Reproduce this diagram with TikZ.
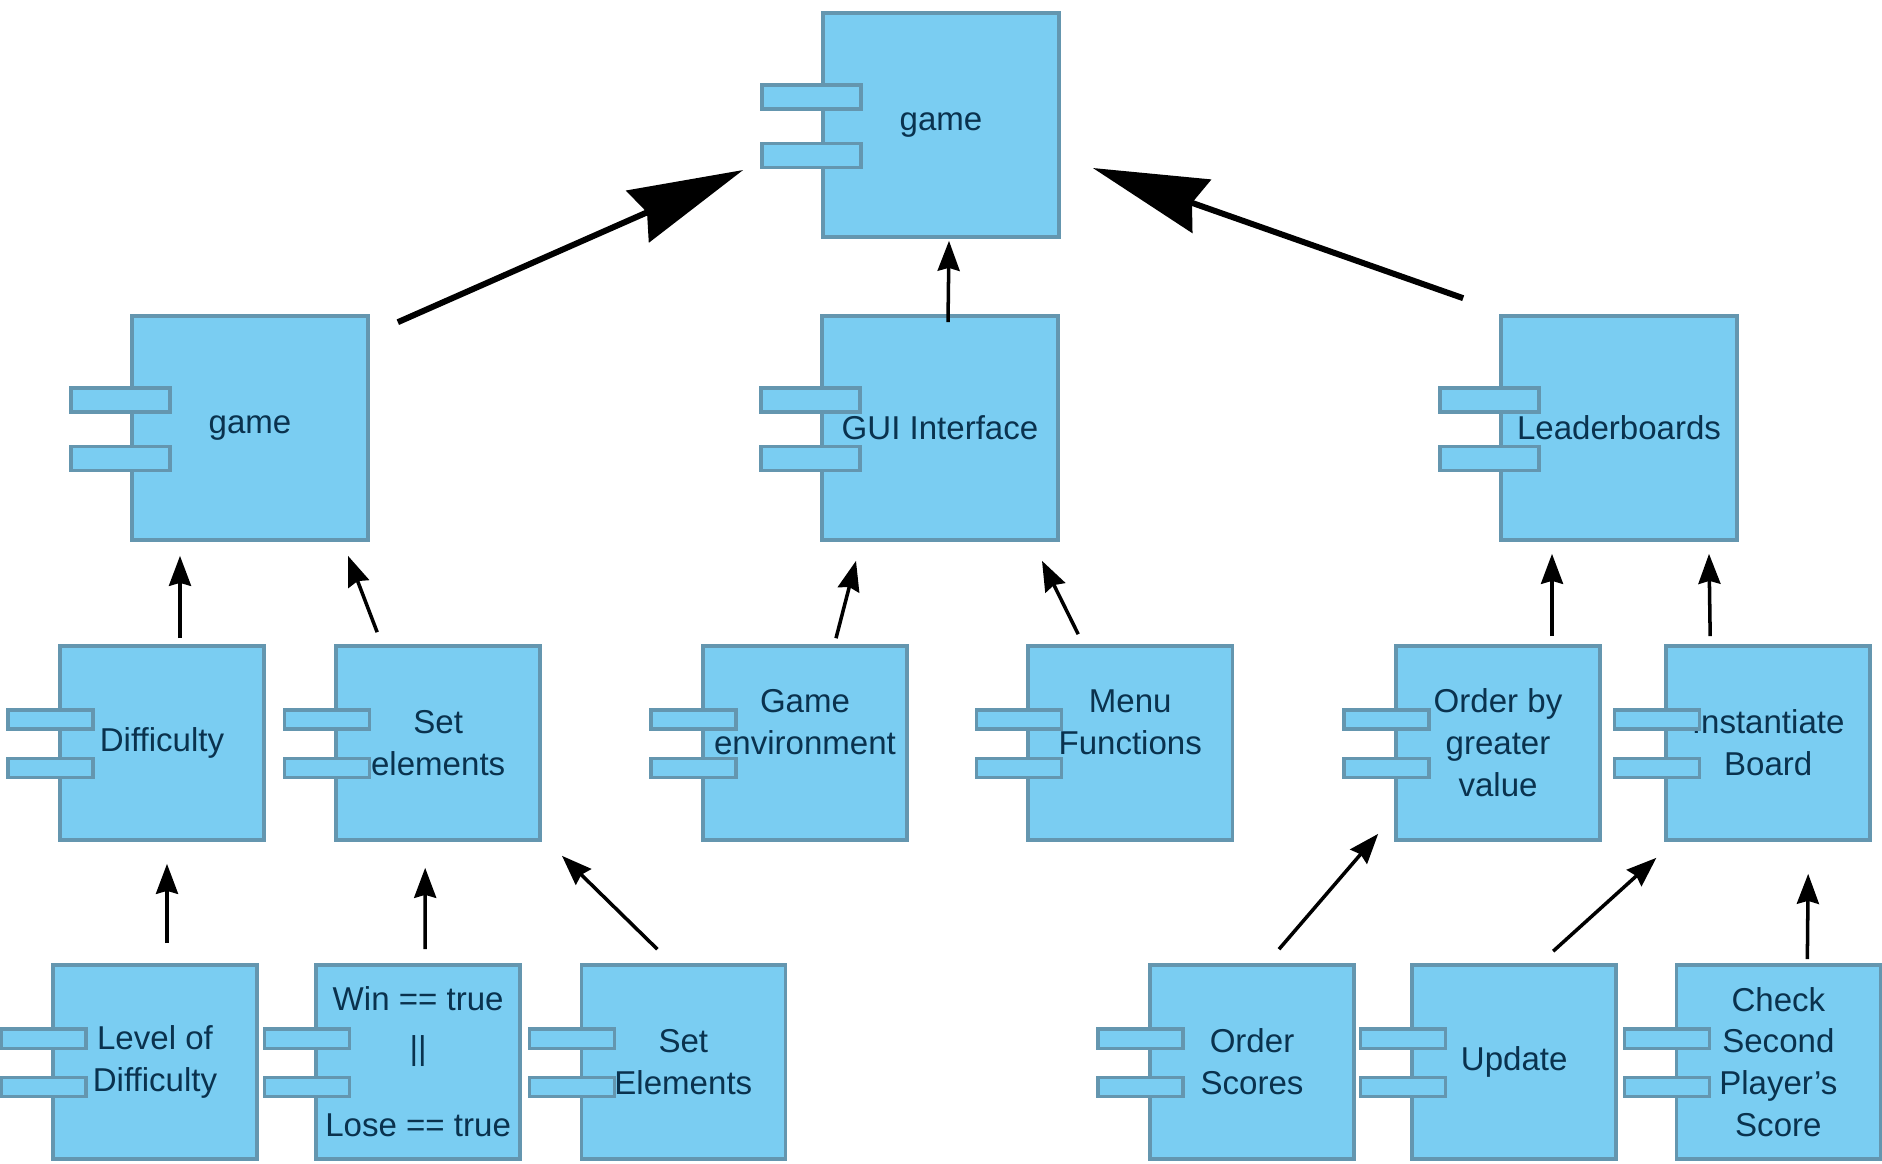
\documentclass[tikz,border=0pt]{standalone}
\usepackage{fontspec}
\setmainfont{Liberation Sans}
\usepackage{tikz}
\usetikzlibrary{arrows.meta,positioning}
\definecolor{compfill}{RGB}{122,205,242}
\definecolor{compedge}{RGB}{100,150,175}
\definecolor{comptext}{RGB}{10,50,78}

\begin{document}
\begin{tikzpicture}[x=0.01cm,y=-0.01cm,semithick,
  font=\fontsize{9.4}{11.9}\selectfont]
\tikzstyle{comp}=[rectangle,draw=compedge,fill=compfill,line width=1pt,text=comptext,align=center,inner sep=0pt]
\tikzstyle{bigcomp}=[comp,minimum width=2.36cm,minimum height=2.24cm]
\tikzstyle{smallcomp}=[comp,minimum width=2.04cm,minimum height=1.94cm]
\tikzstyle{port}=[draw=compedge,fill=compfill,line width=1pt]
\tikzstyle{bigarrow}=[line width=1.7pt,-{Stealth[length=1.15cm,width=0.56cm,inset=0.1cm]}]
\tikzstyle{thinarrow}=[line width=1pt,-{Stealth[length=0.3cm,width=0.22cm,inset=0.03cm]}]
\fill[white] (0,0) rectangle (1882,1163);
\useasboundingbox (0,0) rectangle (1882,1163);

   \node[bigcomp] (top) at (941,125) {game};
   \node[bigcomp] (game) at (250,428) {game};
   \node[bigcomp] (gui) at (940,428) {GUI Interface};
   \node[bigcomp] (lead) at (1619,428) {Leaderboards};

   \node[smallcomp] (diff) at (162,743) {Difficulty};
   \node[smallcomp] (setel) [right=0.685cm of diff] {Set\\elements};
   \node[smallcomp] (genv) at (805,743) {Game\\environment\\\mbox{}};
   \node[smallcomp] (menu) [right=1.175cm of genv] {Menu\\Functions\\\mbox{}};
   \node[smallcomp] (order) at (1498,743) {Order by\\greater\\value};
   \node[smallcomp] (inst) [right=0.625cm of order] {Instantiate\\Board};

   \node[smallcomp] (lvl) at (155,1062) {Level of\\Difficulty};
   \node[smallcomp] (win) [right=0.555cm of lvl] {Win == true\\[0.07cm]||\\[0.35cm]Lose == true};
   \node[smallcomp] (setEl) [right=0.575cm of win] {Set\\Elements};
   \node[smallcomp] (ordsc) at (1252,1062) {Order\\Scores};
   \node[smallcomp] (upd) [right=0.545cm of ordsc] {Update};
   \node[smallcomp] (chk) [right=0.565cm of upd] {Check\\Second\\Player's\\Score};

   \foreach \n in {top,game,gui,lead} {
     \draw[port] ([shift={(-0.59cm,-0.74cm)}]\n.north west) rectangle ++(0.99cm,-0.24cm);
     \draw[port] ([shift={(-0.59cm,-1.32cm)}]\n.north west) rectangle ++(0.99cm,-0.24cm);
   }
   \foreach \n in {diff,setel,genv,menu,order,inst,lvl,win,setEl,ordsc,upd,chk} {
     \draw[port] ([shift={(-0.50cm,-0.66cm)}]\n.north west) rectangle ++(0.85cm,-0.19cm);
     \draw[port] ([shift={(-0.50cm,-1.14cm)}]\n.north west) rectangle ++(0.85cm,-0.19cm);
   }

   \draw[bigarrow] ([shift={(28,8)}]game.north east) -- ([shift={(-78,45)}]top.west);
   \draw[bigarrow] ([shift={(-36,-16)}]lead.north west) -- ([shift={(32,43)}]top.east);
   \draw[thinarrow] ([shift={(8,8)}]gui.north) -- ([shift={(8,2)}]top.south);

   \draw[thinarrow] ([shift={(18,-6)}]diff.north) -- ([shift={(-70,14)}]game.south);
   \draw[thinarrow] ([shift={(-61,-12)}]setel.north) -- ([shift={(98,14)}]game.south);
   \draw[thinarrow] ([shift={(31,-6)}]genv.north) -- ([shift={(-84,19)}]gui.south);
   \draw[thinarrow] ([shift={(-52,-10)}]menu.north) -- ([shift={(102,19)}]gui.south);
   \draw[thinarrow] ([shift={(54,-8)}]order.north) -- ([shift={(-67,12)}]lead.south);
   \draw[thinarrow] ([shift={(-58,-8)}]inst.north) -- ([shift={(90,12)}]lead.south);

   \draw[thinarrow] ([shift={(12,-20)}]lvl.north) -- ([shift={(5,22)}]diff.south);
   \draw[thinarrow] ([shift={(7,-14)}]win.north) -- ([shift={(-13,26)}]setel.south);
   \draw[thinarrow] ([shift={(-26,-14)}]setEl.north) -- ([shift={(20,14)}]setel.south east);
   \draw[thinarrow] ([shift={(27,-14)}]ordsc.north) -- ([shift={(-16,-8)}]order.south west);
   \draw[thinarrow] ([shift={(39,-12)}]upd.north) -- ([shift={(-8,16)}]inst.south west);
   \draw[thinarrow] ([shift={(29,-4)}]chk.north) -- ([shift={(40,32)}]inst.south);
\end{tikzpicture}
\end{document}
